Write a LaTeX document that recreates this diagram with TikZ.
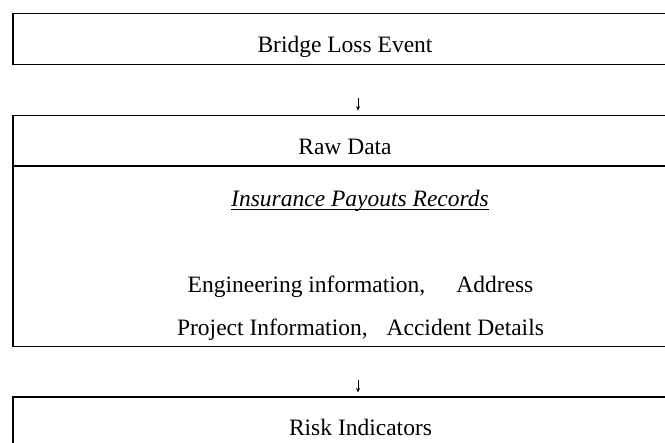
\documentclass[tikz,border=0pt]{standalone}
\usepackage{fontspec}
\setmainfont{Liberation Serif}
\usetikzlibrary{arrows.meta}

\begin{document}
\begin{tikzpicture}[x=1pt,y=-1pt]
    \useasboundingbox (0,0) rectangle (665,443);
    \clip (0,0) rectangle (665,443);
    \begin{scope}[every node/.style={draw, line width=1.3pt, minimum width=664pt, inner sep=0pt}]
        \node[minimum height=50.5pt] (event) at (345,39) {};
        \node[minimum height=231.5pt] (raw) at (345,231) {};
        \node[minimum height=66pt] (risk) at (345,430) {};
    \end{scope}
    \coordinate (div) at (345,166);
    \draw[line width=1.3pt] (div -| raw.west) -- (div -| raw.east);
    \begin{scope}[every node/.style={font=\fontsize{23.5}{28}\selectfont, inner sep=0pt, anchor=base}]
        \node (eventtxt) at (345,53) {Bridge Loss Event};
        \node (rawtxt) at (345,155) {Raw Data};
        \node (records) at (360,207) {\textit{Insurance Payouts Records}};
        \node (eng) at (360.5,293) {Engineering information,\hspace{31pt}Address};
        \node (proj) at (360.5,336) {Project Information,\hspace{19pt}Accident Details};
        \node (risktxt) at (360.5,436) {Risk Indicators};
    \end{scope}
    \draw[line width=1.3pt] ([yshift=-2.5pt]records.base west) -- ([yshift=-2.5pt]records.base east);
    \begin{scope}[every edge/.style={draw, line width=0.6pt, -{Stealth[length=4.5pt,width=4pt]}}]
        \path ([xshift=13pt]event.south) edge[shorten <=33pt, shorten >=4pt] ([xshift=13pt]raw.north);
        \path ([xshift=13pt]raw.south) edge[shorten <=32.5pt, shorten >=4pt] ([xshift=13pt]risk.north);
    \end{scope}
\end{tikzpicture}
\end{document}
